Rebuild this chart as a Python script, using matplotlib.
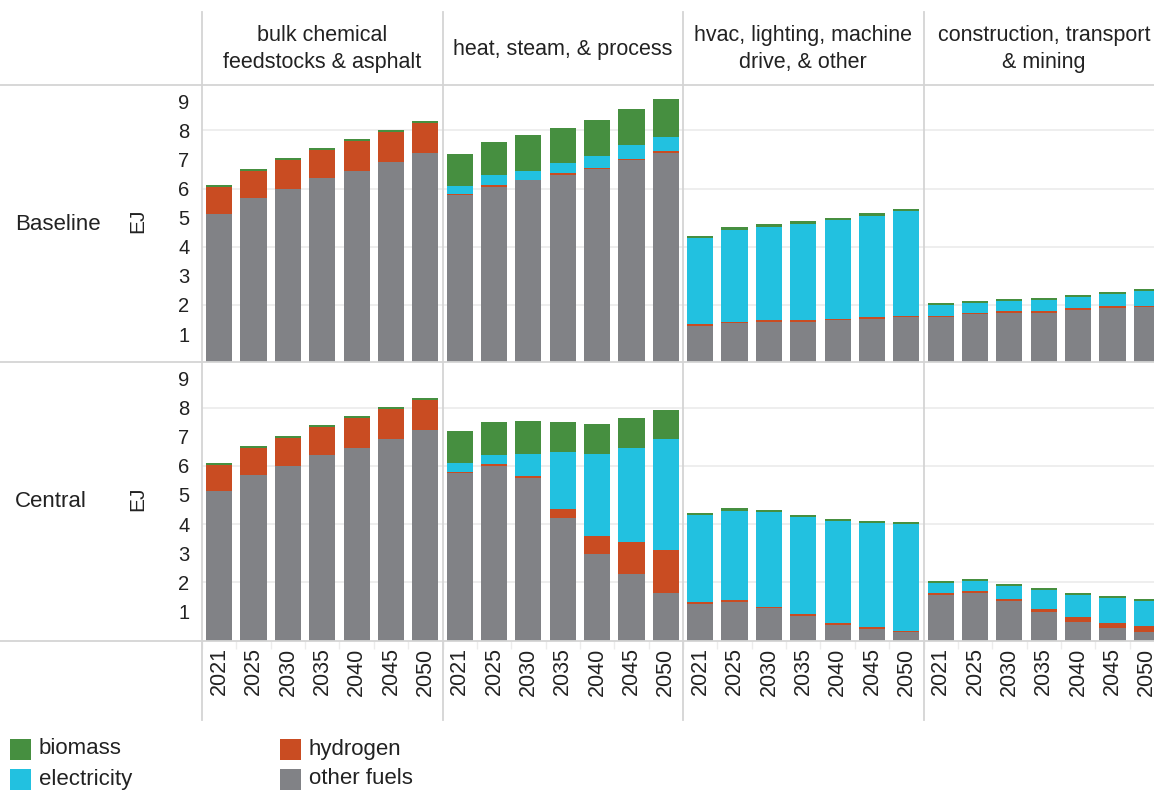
import matplotlib
matplotlib.use('Agg')
import matplotlib.pyplot as plt
import numpy as np
from matplotlib.lines import Line2D
from matplotlib.patches import Rectangle

plt.rcParams['font.family'] = ['Liberation Sans', 'DejaVu Sans']

# ---------------- data ----------------
years = ['2021', '2025', '2030', '2035', '2040', '2045', '2050']
sectors = ['bulk chemical\nfeedstocks & asphalt', 'heat, steam, & process',
           'hvac, lighting, machine\ndrive, & other', 'construction, transport\n& mining']
scenarios = ['Baseline', 'Central']
fuels = ['other fuels', 'hydrogen', 'electricity', 'biomass']   # stacking order (bottom -> top)
fuel_colors = {'biomass': '#468f40', 'electricity': '#22c1e0',
               'hydrogen': '#c94c22', 'other fuels': '#818286'}
legend_order = ['biomass', 'electricity', 'hydrogen', 'other fuels']
y_ticks = [1, 2, 3, 4, 5, 6, 7, 8, 9]
grid_vals = [2, 4, 6, 8]

# Baseline (one list per sector, values per year, EJ)
base_other = [[5.13, 5.68, 5.99, 6.37, 6.61, 6.92, 7.24],
              [5.77, 6.07, 6.28, 6.48, 6.69, 7.00, 7.23],
              [1.29, 1.39, 1.42, 1.42, 1.49, 1.52, 1.59],
              [1.59, 1.70, 1.73, 1.73, 1.84, 1.91, 1.94]]
base_hydrogen = [[0.93, 0.93, 1.01, 0.97, 1.03, 1.04, 1.02],
                 [0.04, 0.04, 0.03, 0.04, 0.03, 0.03, 0.07],
                 [0.04, 0.03, 0.07, 0.07, 0.03, 0.07, 0.04],
                 [0.04, 0.03, 0.07, 0.07, 0.04, 0.04, 0.03]]
base_electricity = [[0.00, 0.00, 0.00, 0.00, 0.00, 0.00, 0.01],
                    [0.28, 0.36, 0.30, 0.36, 0.40, 0.47, 0.48],
                    [2.98, 3.17, 3.20, 3.30, 3.41, 3.47, 3.60],
                    [0.37, 0.34, 0.34, 0.38, 0.40, 0.43, 0.52]]
base_biomass = [[0.07, 0.07, 0.06, 0.06, 0.07, 0.06, 0.07],
                [1.10, 1.14, 1.24, 1.21, 1.24, 1.24, 1.30],
                [0.07, 0.09, 0.10, 0.10, 0.06, 0.11, 0.07],
                [0.07, 0.07, 0.07, 0.07, 0.07, 0.07, 0.06]]

# Central
cent_other = [[5.14, 5.69, 6.00, 6.39, 6.61, 6.94, 7.23],
              [5.77, 6.00, 5.58, 4.21, 2.97, 2.29, 1.63],
              [1.25, 1.32, 1.12, 0.84, 0.53, 0.40, 0.29],
              [1.57, 1.63, 1.36, 0.98, 0.64, 0.43, 0.29]]
cent_hydrogen = [[0.90, 0.93, 0.96, 0.96, 1.04, 1.03, 1.03],
                 [0.03, 0.07, 0.07, 0.31, 0.62, 1.09, 1.48],
                 [0.07, 0.07, 0.03, 0.07, 0.07, 0.06, 0.04],
                 [0.06, 0.07, 0.07, 0.10, 0.17, 0.17, 0.21]]
cent_electricity = [[0.00, 0.00, 0.00, 0.00, 0.00, 0.00, 0.00],
                    [0.31, 0.32, 0.77, 1.96, 2.82, 3.24, 3.82],
                    [2.99, 3.06, 3.27, 3.33, 3.51, 3.58, 3.67],
                    [0.35, 0.34, 0.44, 0.66, 0.75, 0.86, 0.86]]
cent_biomass = [[0.07, 0.06, 0.07, 0.06, 0.06, 0.05, 0.07],
                [1.09, 1.12, 1.12, 1.03, 1.03, 1.03, 0.99],
                [0.07, 0.10, 0.06, 0.07, 0.07, 0.07, 0.07],
                [0.06, 0.07, 0.07, 0.06, 0.07, 0.07, 0.07]]

data = {
    'Baseline': {'other fuels': base_other, 'hydrogen': base_hydrogen,
                 'electricity': base_electricity, 'biomass': base_biomass},
    'Central': {'other fuels': cent_other, 'hydrogen': cent_hydrogen,
                'electricity': cent_electricity, 'biomass': cent_biomass},
}

# ---------------- layout (pixels) ----------------
W, H = 1154, 790
fig = plt.figure(figsize=(W / 100, H / 100), dpi=100)
fig.patch.set_facecolor('white')


def fx(px):
    return px / W


def fy(py):
    return 1 - py / H


col_left = [202, 442.5, 683, 923.5]
col_w = 240.5
row_top = [85, 362.3]
row_h = 278.2
px_per_unit = 29.1
line_col = '#d4d4d4'

x = np.arange(len(years))
for r, scen in enumerate(scenarios):
    for c, sec in enumerate(sectors):
        ax = fig.add_axes([fx(col_left[c]), fy(row_top[r] + row_h), col_w / W, row_h / H])
        ax.set_xlim(-0.5, len(years) - 0.5)
        ax.set_ylim(0, row_h / px_per_unit)
        for g in grid_vals:
            ax.axhline(g, color='#eeeeee', lw=1.4, zorder=0)
        bottom = np.zeros(len(years))
        for f in fuels:
            vals = np.array(data[scen][f][c])
            ax.bar(x, vals, width=0.76, bottom=bottom, color=fuel_colors[f], lw=0, zorder=2)
            bottom = bottom + vals
        for s in ax.spines.values():
            s.set_visible(False)
        ax.set_yticks(y_ticks)
        if c == 0:
            ax.tick_params(axis='y', length=0, pad=9, labelsize=14.5, labelcolor='#222222')
        else:
            ax.tick_params(axis='y', length=0, labelleft=False)
        ax.set_xticks(x)
        ax.set_xticks(np.arange(len(years) + 1) - 0.5, minor=True)
        if r == len(scenarios) - 1:
            ax.set_xticklabels(years, rotation=90, fontsize=15.5, color='#222222')
            ax.tick_params(axis='x', which='major', length=0, pad=5)
            ax.tick_params(axis='x', which='minor', length=6, width=1, color='#ececec', direction='out')
        else:
            ax.tick_params(axis='x', which='both', length=0, labelbottom=False)

    # row label + axis label
    yc = row_top[r] + row_h / 2
    fig.text(fx(15), fy(yc), scen, fontsize=16, ha='left', va='center', color='#222222')
    fig.text(fx(138), fy(yc - 3), 'EJ', fontsize=15, rotation=90, ha='center', va='center', color='#222222')

# column headers
for c, sec in enumerate(sectors):
    fig.text(fx(col_left[c] + col_w / 2), fy(49), sec, fontsize=15.5, ha='center', va='center',
             linespacing=1.4, color='#222222')

# grid frame lines
for c in range(len(sectors)):
    fig.add_artist(Line2D([fx(col_left[c])] * 2, [fy(12), fy(720)], color=line_col, lw=1.3))
for yy in [85, 362.3, 640.5]:
    fig.add_artist(Line2D([0, 1], [fy(yy)] * 2, color=line_col, lw=1.3))

# legend
leg_pos = [(10, 749), (10, 779), (280, 749), (280, 779)]
for name, (lx, ly) in zip(legend_order, leg_pos):
    fig.add_artist(Rectangle((fx(lx), fy(ly + 10.5)), 21 / W, 21 / H,
                             transform=fig.transFigure, color=fuel_colors[name], lw=0))
    fig.text(fx(lx + 29), fy(ly), name, fontsize=16, ha='left', va='center', color='#222222')

fig.savefig('out.png', dpi=100)
